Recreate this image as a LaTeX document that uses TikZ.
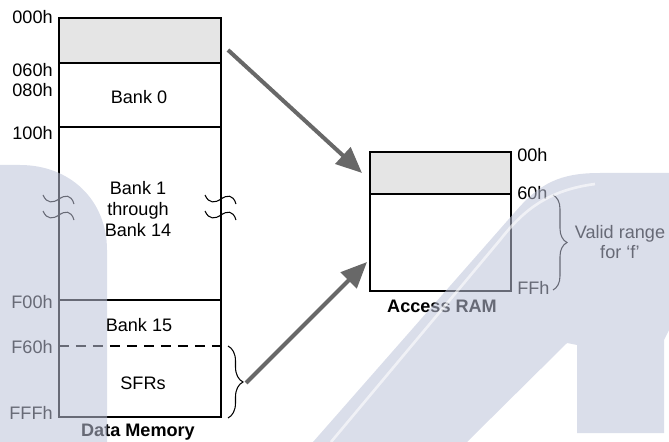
\documentclass[tikz,border=0pt]{standalone}
\usepackage{fontspec}
\setmainfont{Liberation Sans}
\usetikzlibrary{arrows.meta,decorations.pathreplacing}

\definecolor{shade}{RGB}{229,229,229}
\definecolor{arrowgray}{RGB}{104,104,104}
\definecolor{wmblue}{RGB}{188,194,216}

\tikzset{
  txt/.style={font=\fontsize{10.3}{11.9}\selectfont, inner sep=0pt},
  addr/.style={txt, anchor=east},
  addrr/.style={txt, anchor=west},
  box/.style={draw, line width=1.1pt},
  bigarrow/.style={draw=arrowgray, line width=2.3pt, -{Triangle[length=0.52cm,width=0.44cm]}},
  curly/.style={decorate, decoration={brace, amplitude=#1}, line width=0.6pt},
  wave/.style={line width=0.6pt}
}

\begin{document}
\begin{tikzpicture}[x=0.02cm,y=-0.02cm]
  \useasboundingbox (0,0) rectangle (669,442);

  % data memory
  \draw[box, fill=shade] (59,18) rectangle (221,63);
  \draw[box] (59,63) rectangle (221,417);
  \draw[box] (59,127) -- (221,127);
  \draw[box] (59,300) -- (221,300);
  \draw[box, dash pattern=on 0.2cm off 0.14cm] (59,346) -- (221,346);
  \foreach \x/\y in {59/199, 59/215, 221/199, 221/215}
    \draw[wave] (\x-16,\y-4) .. controls (\x-12,\y+5) and (\x-6,\y+4) .. (\x,\y)
      .. controls (\x+6,\y-4) and (\x+12,\y-5) .. (\x+15,\y+5);

  \node[addr] (a000) at (53,17) {000h};
  \node[addr] (a060) at (53,70) {060h};
  \node[addr] (a080) at (53,90) {080h};
  \node[addr] (a100) at (53,133) {100h};
  \node[addr] (aF00) at (53,302) {F00h};
  \node[addr] (aF60) at (53,347) {F60h};
  \node[addr] (aFFF) at (53,413) {FFFh};

  \node[txt] (bank0) at (139,97) {Bank 0};
  \node[txt, align=center] (bank1) at (138,209) {Bank 1\\through\\Bank 14};
  \node[txt] (bank15) at (139,325) {Bank 15};
  \node[txt] (sfr) at (143,383) {SFRs};
  \node[txt, font=\fontsize{10.3}{11.9}\selectfont\bfseries] (dmem) at (138,432) {Data Memory};

  % access ram
  \draw[box, fill=shade] (370,152) rectangle (511,194);
  \draw[box] (370,194) rectangle (511,291);
  \node[addrr] (r00) at (517,155) {00h};
  \node[addrr] (r60) at (517,193) {60h};
  \node[addrr] (rFF) at (517,288) {FFh};
  \node[txt, font=\fontsize{10.3}{11.9}\selectfont\bfseries] (aram) at (442,306) {Access RAM};

  % braces and arrows
  \draw[curly=0.3cm] (228,346) -- (228,418);
  \draw[curly=0.28cm] (553,195) -- (553,290);
  \node[txt, align=center, font=\fontsize{10.3}{11.3}\selectfont] (valid) at (620,242) {Valid range\\for ‘f’};

  \coordinate (topsrc) at (228,50);
  \coordinate (toptgt) at (362,173);
  \coordinate (sfrtip) at (246,383);
  \coordinate (ramtgt) at (367,262);
  \draw[bigarrow] (topsrc) -- (toptgt);
  \draw[bigarrow] (sfrtip) -- (ramtgt);

  % watermark
  \fill[wmblue, fill opacity=0.55] (0,165) -- (20,165) .. controls (70,165) and (107,200) .. (107,250)
    -- (107,442) -- (0,442) -- cycle;
  \fill[wmblue, fill opacity=0.55] (313,442) -- (515,212) .. controls (540,183) and (560,173) .. (600,173)
    -- (669,173) -- (669,330) -- (664,340) -- (664,433) -- (577,433) -- (577,345) -- (567,343)
    -- (467,442) -- cycle;
  \draw[white, opacity=0.6, line width=1.5pt] (331,442) -- (500,240) .. controls (525,208) and (550,190) .. (595,184);
\end{tikzpicture}
\end{document}
